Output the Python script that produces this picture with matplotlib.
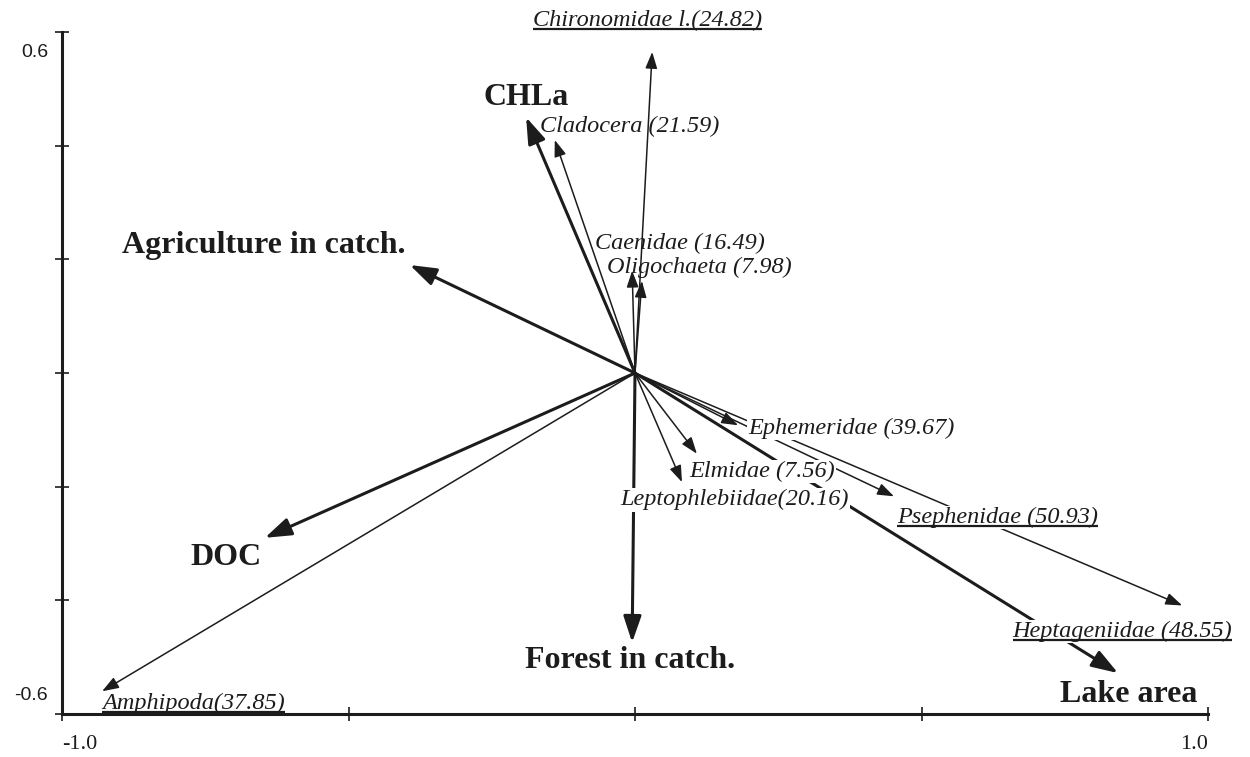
import matplotlib
matplotlib.use("Agg")
import matplotlib.pyplot as plt

# --- data: biplot vectors (axis 1, axis 2) ---
env_names = ["CHLa", "Agriculture in catch.", "DOC", "Forest in catch.", "Lake area"]
env_x = [-0.190, -0.393, -0.646, -0.005, 0.843]
env_y = [0.450, 0.190, -0.290, -0.474, -0.528]

sp_names = ["Chironomidae l.(24.82)", "Cladocera (21.59)", "Caenidae (16.49)",
            "Oligochaeta (7.98)", "Ephemeridae (39.67)", "Elmidae (7.56)",
            "Leptophlebiidae(20.16)", "Psephenidae (50.93)",
            "Heptageniidae (48.55)", "Amphipoda(37.85)"]
sp_x = [0.030, -0.140, -0.005, 0.012, 0.180, 0.108, 0.082, 0.452, 0.955, -0.930]
sp_y = [0.565, 0.410, 0.180, 0.162, -0.092, -0.142, -0.192, -0.217, -0.409, -0.560]
sp_underlined = [True, False, False, False, False, False, False, True, True, True]
sp_opaque = [False, False, False, False, True, True, True, True, True, False]

x_ticks = [-1.0, -0.5, 0.0, 0.5, 1.0]
x_ticklabels = ["-1.0", "", "", "", "1.0"]
y_ticks = [-0.6, -0.4, -0.2, 0.0, 0.2, 0.4, 0.6]
y_ticklabels = ["-0.6", "", "", "", "", "", "0.6"]

# label placement (text anchor positions in data units)
env_label_pos = [(-0.265, 0.485), (-0.895, 0.225), (-0.776, -0.325),
                 (-0.192, -0.505), (0.742, -0.565)]
sp_label_pos = [(-0.178, 0.620), (-0.165, 0.434), (-0.070, 0.228), (-0.049, 0.185),
                (0.197, -0.097), (0.094, -0.173), (-0.026, -0.223), (0.457, -0.254),
                (0.659, -0.455), (-0.930, -0.582)]

ink = "#1c1c1c"
fig = plt.figure(figsize=(12.5, 7.57), dpi=100)
ax = fig.add_axes([0.0496, 0.0568, 0.9168, 0.9009])
ax.set_xlim(-1.0, 1.0)
ax.set_ylim(-0.6, 0.6)

for s in ["top", "right"]:
    ax.spines[s].set_visible(False)
for s in ["left", "bottom"]:
    ax.spines[s].set_linewidth(2.2)
    ax.spines[s].set_color(ink)
    ax.spines[s].set_zorder(7)

ax.set_xticks(x_ticks)
ax.set_xticklabels(x_ticklabels, fontfamily="Liberation Serif", fontsize=16, color=ink)
ax.set_yticks(y_ticks)
ax.set_yticklabels([""] * len(y_ticks))
ax.tick_params(axis="both", direction="inout", length=10, width=1.2, color=ink)
ax.tick_params(axis="x", pad=10)
xl = ax.get_xticklabels()
xl[0].set_ha("left")
xl[-1].set_ha("right")

# y tick labels, set slightly inside the end ticks as in the original
for val, lab in zip(y_ticks, y_ticklabels):
    if lab:
        dy = -14.5 if val > 0 else 13.5
        ax.annotate(lab, xy=(0, val), xycoords=("axes fraction", "data"),
                    xytext=(-10, dy), textcoords="offset points", ha="right", va="center",
                    fontfamily="Liberation Sans", fontsize=14, color=ink,
                    annotation_clip=False)

# species arrows (thin)
for x, y in zip(sp_x, sp_y):
    ax.annotate("", xy=(x, y), xytext=(0, 0), xycoords="data", textcoords="data",
                arrowprops=dict(arrowstyle="-|>,head_length=0.5,head_width=0.18", lw=1.1,
                                color=ink, mutation_scale=20, shrinkA=0, shrinkB=0),
                zorder=2)

# environmental arrows (thick)
for x, y in zip(env_x, env_y):
    ax.annotate("", xy=(x, y), xytext=(0, 0), xycoords="data", textcoords="data",
                arrowprops=dict(arrowstyle="-|>,head_length=1.0,head_width=0.34", lw=2.2,
                                color=ink, mutation_scale=16, shrinkA=0, shrinkB=0),
                zorder=3)

box = dict(boxstyle="square,pad=0.05", facecolor="white", edgecolor="none")

for name, (lx, ly), ul, op in zip(sp_names, sp_label_pos, sp_underlined, sp_opaque):
    t = ax.text(lx, ly, name, fontfamily="Liberation Serif", style="italic", fontsize=17.5,
                color=ink, ha="left", va="center", bbox=box if op else None, zorder=5)
    if ul:
        fig.canvas.draw()
        bb = t.get_window_extent().transformed(ax.transData.inverted())
        ax.plot([bb.x0, bb.x1], [bb.y0 + 0.004, bb.y0 + 0.004], color=ink, lw=1.6,
                zorder=6, solid_capstyle="butt", clip_on=False)

for name, (lx, ly) in zip(env_names, env_label_pos):
    ax.text(lx, ly, name, fontfamily="Liberation Serif", fontweight="bold", fontsize=23,
            color=ink, ha="left", va="center", zorder=5)

fig.savefig("out.png", dpi=100)
